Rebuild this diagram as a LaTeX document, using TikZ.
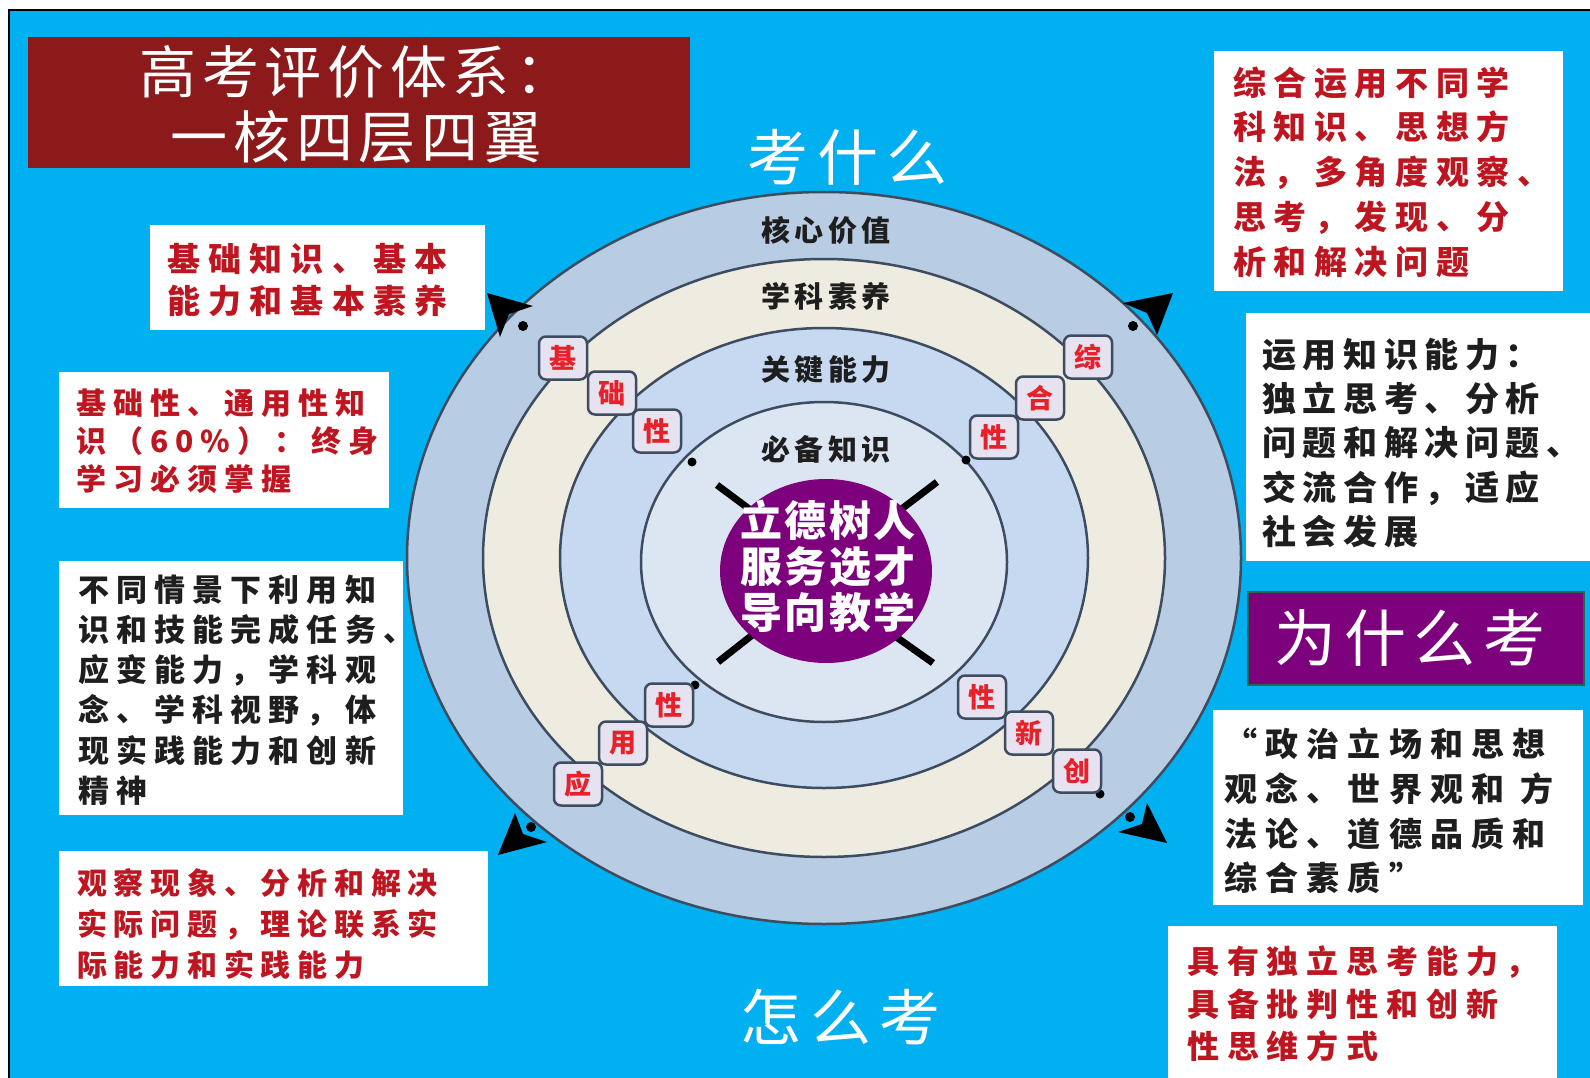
\documentclass[tikz,border=0pt]{standalone}
\usepackage{fontspec}
\setmainfont{Noto Sans CJK SC}
\definecolor{bgblue}{RGB}{0,176,240}
\definecolor{titlered}{RGB}{140,26,26}
\definecolor{boxred}{RGB}{190,22,32}
\definecolor{ringA}{RGB}{184,204,228}
\definecolor{ringB}{RGB}{238,236,224}
\definecolor{ringC}{RGB}{198,217,241}
\definecolor{ringD}{RGB}{220,230,242}
\definecolor{ringline}{RGB}{62,76,96}
\definecolor{sqfill}{RGB}{230,226,240}
\definecolor{sqred}{RGB}{232,32,42}
\definecolor{purp}{RGB}{125,0,125}
\definecolor{purpborder}{RGB}{40,100,80}
\definecolor{darktext}{RGB}{30,30,30}
\newcommand{\txt}[3]{\fontsize{#1}{#2}\selectfont\addfontfeatures{LetterSpace=#3}}
\tikzset{
  whitebox/.style={fill=white, draw=none, anchor=north west, inner sep=0pt},
  redtxt/.style={anchor=west, align=left, inner sep=0pt, text=boxred},
  blacktxt/.style={anchor=west, align=left, inner sep=0pt, text=darktext},
  sq/.style={rounded corners=7pt, draw=ringline, line width=2.5pt, fill=sqfill,
     minimum width=48pt, minimum height=43pt, inner sep=0pt, text=sqred,
     font=\bfseries\fontsize{27}{27}\selectfont},
  ringlabel/.style={inner sep=0pt, text=darktext, font={\bfseries\txt{29}{29}{15}}},
  ringfill/.style={draw=ringline, line width=2.5pt},
  xseg/.style={line width=7pt, black},
}
\begin{document}
\begin{tikzpicture}[x=1pt,y=-1pt]
\useasboundingbox (0,0) rectangle (1590,1078);
\fill[white] (0,0) rectangle (1590,1078);
\fill[bgblue] (9,10) rectangle (1590,1078);
\draw[black, line width=2pt] (9,1078) -- (9,10) -- (1590,10);

% title
\node[fill=titlered, anchor=north west, inner sep=0pt, minimum width=662pt, minimum height=131pt] (title) at (28,37) {};
\node[text=white, align=center, inner sep=0pt, font={\txt{57}{65}{10}}] (titletext) at (356,105) {高考评价体系：\\一核四层四翼};

% headings
\node[text=white, inner sep=0pt, font={\txt{61}{70}{14}}] (kao) at (848,157) {考什么};
\node[text=white, inner sep=0pt, font={\txt{61}{70}{14}}] (zenme) at (841,1017) {怎么考};

% rings
\path[ringfill, fill=ringA] (824,558) ellipse [x radius=417pt, y radius=366pt];
\path[ringfill, fill=ringB] (824,558) ellipse [x radius=341pt, y radius=299pt];
\path[ringfill, fill=ringC] (824,558) ellipse [x radius=264pt, y radius=230pt];
\path[ringfill, fill=ringD] (824,562) ellipse [x radius=183pt, y radius=160pt];

% ring labels
\node[ringlabel] (l1) at (826,230) {核心价值};
\node[ringlabel] (l2) at (826,296) {学科素养};
\node[ringlabel] (l3) at (826,370) {关键能力};
\node[ringlabel] (l4) at (826,449) {必备知识};

% X segments around the core
\coordinate (xa1) at (717,485); \coordinate (xa2) at (760,517);
\coordinate (xb1) at (937,482); \coordinate (xb2) at (895,514);
\coordinate (xc1) at (718,662); \coordinate (xc2) at (760,629);
\coordinate (xd1) at (933,663); \coordinate (xd2) at (892,634);
\draw[xseg] (xa1) -- (xa2);
\draw[xseg] (xb1) -- (xb2);
\draw[xseg] (xc1) -- (xc2);
\draw[xseg] (xd1) -- (xd2);

% core
\fill[purp] (826,571) ellipse [x radius=106pt, y radius=92pt];
\node[text=white, align=center, inner sep=0pt, font={\bfseries\txt{42}{46}{5}}] (core) at (828,566) {立德树人\\服务选才\\导向教学};

% dots
\fill (523,326) circle (5pt);
\fill (1133,326) circle (5pt);
\fill (531,827) circle (5pt);
\fill (1130,817) circle (5pt);
\fill (692,462) circle (4.5pt);
\fill (966,460) circle (4.5pt);
\fill (695,685) circle (4.5pt);
\fill (1100,794) circle (4.5pt);

% arrowheads
\fill (487,293) -- (533,306) -- (509,314) -- (500,337) -- cycle;
\fill (1173,293) -- (1123,303) -- (1147,313) -- (1157,335) -- cycle;
\fill (498,855) -- (547,842) -- (523,834) -- (515,813) -- cycle;
\fill (1167,843) -- (1118,832) -- (1142,824) -- (1147,803) -- cycle;

% small squares
\node[sq] (s1) at (563,358) {基};
\node[sq] (s2) at (612,393) {础};
\node[sq] (s3) at (657,431) {性};
\node[sq] (s4) at (1088,357) {综};
\node[sq] (s5) at (1040,398) {合};
\node[sq] (s6) at (994,437) {性};
\node[sq] (s7) at (669,705) {性};
\node[sq] (s8) at (623,743) {用};
\node[sq] (s9) at (578,784) {应};
\node[sq] (s10) at (982,697) {性};
\node[sq] (s11) at (1029,733) {新};
\node[sq] (s12) at (1077,771) {创};

% left boxes
\node[whitebox, minimum width=335pt, minimum height=105pt] (b1) at (150,225) {};
\node[redtxt, font={\bfseries\txt{33}{42}{25}}] (t1) at (167,280) {基础知识、基本\\能力和基本素养};

\node[whitebox, minimum width=330pt, minimum height=136pt] (b2) at (59,372) {};
\node[redtxt, font={\bfseries\txt{30}{38}{23.5}}] (t2) at (76,441) {基础性、通用性知\\识（60\%）：终身\\学习必须掌握};

\node[whitebox, minimum width=344pt, minimum height=254pt] (b3) at (59,561) {};
\node[blacktxt, font={\bfseries\txt{31}{40.2}{23}}] (t3) at (78,690) {不同情景下利用知\\识和技能完成任务、\\应变能力，学科观\\念、学科视野，体\\现实践能力和创新\\精神};

\node[whitebox, minimum width=429pt, minimum height=135pt] (b4) at (59,851) {};
\node[redtxt, font={\bfseries\txt{30}{41}{22.5}}] (t4) at (77,924) {观察现象、分析和解决\\实际问题，理论联系实\\际能力和实践能力};

% right boxes
\node[whitebox, minimum width=349pt, minimum height=240pt] (b5) at (1214,51) {};
\node[redtxt, font={\bfseries\txt{33}{44.7}{23}}] (t5) at (1233,172) {综合运用不同学\\科知识、思想方\\法，多角度观察、\\思考，发现、分\\析和解决问题};

\node[whitebox, minimum width=344pt, minimum height=248pt] (b6) at (1246,313) {};
\node[blacktxt, font={\bfseries\txt{34}{44.2}{19.5}}] (t6) at (1262,443) {运用知识能力：\\独立思考、分析\\问题和解决问题、\\交流合作，适应\\社会发展};

\node[fill=purp, draw=purpborder, line width=2pt, anchor=north west, inner sep=0pt, minimum width=336pt, minimum height=93pt] (why) at (1247,591) {};
\node[text=white, inner sep=0pt, font={\txt{62}{62}{12}}] (whytext) at (1410,638) {为什么考};

\node[whitebox, minimum width=370pt, minimum height=195pt] (b8) at (1213,710) {};
\node[blacktxt, font={\bfseries\txt{33}{44.7}{25}}] (t8) at (1224,811) {“政治立场和思想\\观念、世界观和 方\\法论、道德品质和\\综合素质”};

\node[whitebox, minimum width=389pt, minimum height=152pt] (b9) at (1168,926) {};
\node[redtxt, font={\bfseries\txt{32}{42.5}{24.5}}] (t9) at (1187,1004) {具有独立思考能力，\\具备批判性和创新\\性思维方式};
\end{tikzpicture}
\end{document}
